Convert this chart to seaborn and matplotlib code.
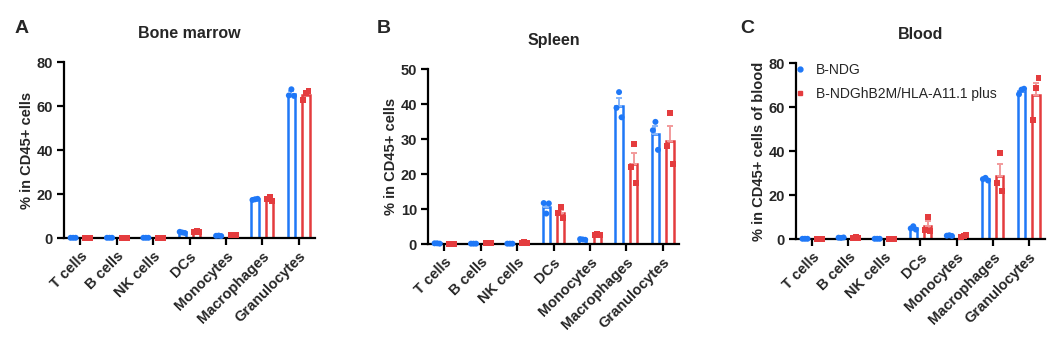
import numpy as np
import pandas as pd
import matplotlib
matplotlib.use("Agg")
import matplotlib.pyplot as plt
import seaborn as sns
from matplotlib.lines import Line2D

# ---------------- data ----------------
categories = ["T cells", "B cells", "NK cells", "DCs", "Monocytes", "Macrophages", "Granulocytes"]
groups = ["B-NDG", "B-NDGhB2M/HLA-A11.1 plus"]

bm_ndg = [[0.1, 0.1, 0.1], [0.1, 0.1, 0.1], [0.1, 0.1, 0.1], [2.8, 2.5, 2.3],
          [1.0, 1.1, 0.9], [17.3, 17.6, 17.8], [64.8, 67.6, 64.6]]
bm_hla = [[0.1, 0.1, 0.1], [0.1, 0.1, 0.1], [0.2, 0.2, 0.1], [2.6, 3.0, 2.8],
          [1.4, 1.6, 1.5], [17.8, 18.8, 16.9], [62.7, 65.8, 67.0]]

sp_ndg = [[0.2, 0.2, 0.1], [0.1, 0.1, 0.1], [0.1, 0.1, 0.1], [11.7, 8.7, 11.6],
          [1.4, 1.3, 1.2], [38.9, 43.4, 36.2], [32.5, 34.9, 26.9]]
sp_hla = [[0.1, 0.1, 0.1], [0.2, 0.2, 0.2], [0.3, 0.5, 0.3], [8.8, 10.5, 7.3],
          [2.5, 2.8, 2.6], [22.0, 28.7, 17.5], [27.9, 37.4, 22.9]]

bl_ndg = [[0.1, 0.1, 0.1], [0.6, 0.5, 0.7], [0.1, 0.1, 0.1], [4.8, 5.8, 4.3],
          [1.5, 1.7, 1.4], [27.2, 27.8, 26.6], [65.8, 67.9, 68.3]]
bl_hla = [[0.1, 0.1, 0.1], [0.6, 0.9, 0.6], [0.2, 0.2, 0.1], [4.0, 10.2, 3.8],
          [0.7, 1.5, 1.6], [25.3, 39.0, 22.0], [54.0, 68.5, 73.3]]

panels = [
    ("A", "Bone marrow", "% in CD45+ cells", bm_ndg, bm_hla, [0, 20, 40, 60, 80]),
    ("B", "Spleen", "% in CD45+ cells", sp_ndg, sp_hla, [0, 10, 20, 30, 40, 50]),
    ("C", "Blood", "% in CD45+ cells of blood", bl_ndg, bl_hla, [0, 20, 40, 60, 80]),
]

# ---------------- style ----------------
BLUE = "#1F78F7"
RED = "#E43C3E"
BLUE_L = "#86B6FB"
RED_L = "#F29A9B"
pal = {groups[0]: BLUE, groups[1]: RED}
light = [BLUE_L, RED_L]
markers = ["o", "s"]

sns.set_theme(style="ticks")
plt.rcParams["font.family"] = ["Liberation Sans", "DejaVu Sans"]
plt.rcParams["axes.edgecolor"] = "black"
plt.rcParams["axes.linewidth"] = 1.6

fig = plt.figure(figsize=(10.53, 3.43), dpi=100)
rects = [
    [0.0608, 0.3061, 0.2384, 0.5131],
    [0.4065, 0.2886, 0.2384, 0.5102],
    [0.7559, 0.3032, 0.2365, 0.5131],
]
letter_x = [0.0142, 0.358, 0.7028]
spread = 0.07


def long_df(ndg, hla):
    rows = []
    for g, arr in zip(groups, (ndg, hla)):
        for c, vals in zip(categories, arr):
            for v in vals:
                rows.append((c, g, v))
    return pd.DataFrame(rows, columns=["cell", "group", "value"])


for i, (letter, title, ylab, ndg, hla, yticks) in enumerate(panels):
    ax = fig.add_axes(rects[i])
    df = long_df(ndg, hla)

    sns.barplot(data=df, x="cell", y="value", hue="group", order=categories,
                hue_order=groups, palette=pal, errorbar=None, fill=False,
                width=0.8, gap=0.5, linewidth=1.8, legend=False, ax=ax)

    stats = df.groupby(["cell", "group"])["value"].agg(["mean", "sem"])
    for p in list(ax.patches):
        xc = p.get_x() + p.get_width() / 2
        ci = int(round(xc))
        gi = 0 if xc < ci else 1
        s = stats.loc[(categories[ci], groups[gi]), "sem"]
        ax.errorbar([xc], [p.get_height()], yerr=[[0], [s]], fmt="none",
                    ecolor=light[gi], elinewidth=1.4, capsize=2.3, capthick=1.4,
                    zorder=1)

    for gi, g in enumerate(groups):
        sub = df[df["group"] == g]
        n0 = len(ax.collections)
        sns.stripplot(data=sub, x="cell", y="value", hue="group", order=categories,
                      hue_order=groups, palette=pal, dodge=True, jitter=False,
                      size=4.3, marker=markers[gi], linewidth=0, legend=False,
                      ax=ax, zorder=4)
        for coll in ax.collections[n0:]:
            off = coll.get_offsets()
            if len(off) > 1:
                off = np.array(off)
                off[:, 0] += np.linspace(-spread, spread, len(off))
                coll.set_offsets(off)
    for c in ax.collections:
        c.set_clip_on(False)

    ax.set_xlim(-0.45, 6.45)
    ax.set_ylim(0, yticks[-1])
    ax.set_yticks(yticks)
    sns.despine(ax=ax)
    ax.tick_params(axis="both", length=5, width=1.6, color="black",
                   labelsize=10.5, pad=3)
    ax.set_xlabel("")
    ax.set_ylabel(ylab, fontsize=10.5, fontweight="bold", labelpad=2)
    ax.set_xticks(range(len(categories)))
    ax.set_xticklabels(categories, rotation=45, ha="right",
                       rotation_mode="anchor", fontweight="bold")
    for t in ax.get_yticklabels():
        t.set_fontweight("bold")
    ax.set_title(title, fontsize=11.5, fontweight="bold", pad=17.5)
    fig.text(letter_x[i], 0.904, letter, fontsize=14, fontweight="bold",
             va="baseline", ha="left")

    if letter == "C":
        handles = [Line2D([], [], marker=markers[k], ls="", color=pal[g],
                          markersize=3.5) for k, g in enumerate(groups)]
        ax.legend(handles, groups, loc="upper left", bbox_to_anchor=(0.0, 1.0),
                  frameon=False, fontsize=10, handlelength=0.6,
                  handletextpad=0.86, borderpad=0, borderaxespad=0,
                  labelspacing=0.7)

fig.savefig("out.png", dpi=100)
